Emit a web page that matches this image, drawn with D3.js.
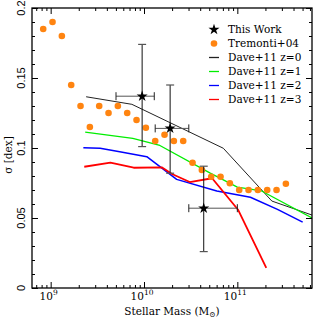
<!DOCTYPE html>
<html lang="en">
<head>
    <meta charset="UTF-8">
    <script src="https://cdnjs.cloudflare.com/ajax/libs/d3/7.8.5/d3.min.js"></script>
    <style>
        body { margin: 0; background: #fff; }
        svg { display: block; }
        .serif { font-family: "DejaVu Serif", serif; }
        .sans { font-family: "Liberation Sans", Arial, sans-serif; }
    </style>
</head>
<body>
<svg id="chart" width="314" height="320"></svg>
<script>
    // Tremonti+04 (log M*, sigma)
    var tremontiLogM = [8.92, 9.02, 9.12, 9.22, 9.32, 9.42, 9.52, 9.62, 9.72, 9.82, 9.92, 10.02, 10.12, 10.22,
        10.32, 10.42, 10.52, 10.62, 10.72, 10.82, 10.92, 11.02, 11.12, 11.22, 11.32, 11.42, 11.52];
    var tremontiSigma = [0.185, 0.190, 0.180, 0.145, 0.130, 0.115, 0.130, 0.125, 0.130, 0.125, 0.120, 0.1145, 0.105, 0.1095,
        0.105, 0.105, 0.0895, 0.0843, 0.0795, 0.0795, 0.0748, 0.070, 0.070, 0.070, 0.070, 0.070, 0.0745];

    // This work: log M*, sigma, mass range, sigma range
    var thisLogM = [9.98, 10.28, 10.64];
    var thisSigma = [0.137, 0.114, 0.057];
    var thisLogMLo = [9.70, 10.12, 10.48];
    var thisLogMHi = [10.11, 10.48, 11.0];
    var thisSigmaLo = [0.101, 0.082, 0.026];
    var thisSigmaHi = [0.174, 0.145, 0.087];

    // Dave+11 models
    var daveZ0LogM = [9.38, 9.87, 10.85, 11.37, 11.8];
    var daveZ0Sigma = [0.1366, 0.1312, 0.0998, 0.0621, 0.0521];
    var daveZ1LogM = [9.37, 9.88, 10.17, 10.71, 11.0, 11.26, 11.8];
    var daveZ1Sigma = [0.1114, 0.1068, 0.1018, 0.0821, 0.0721, 0.0693, 0.050];
    var daveZ2LogM = [9.35, 9.53, 9.74, 10.03, 10.35, 10.78, 11.14, 11.43, 11.70];
    var daveZ2Sigma = [0.1002, 0.0998, 0.0974, 0.0938, 0.0776, 0.0693, 0.0648, 0.0562, 0.0471];
    var daveZ3LogM = [9.36, 9.64, 9.89, 10.19, 10.30, 10.49, 10.73, 11.01, 11.31];
    var daveZ3Sigma = [0.0866, 0.0895, 0.0859, 0.0862, 0.0814, 0.0757, 0.0784, 0.0557, 0.0143];

    var yMajor = [0, 0.05, 0.1, 0.15, 0.2];
    var yMajorLabels = ["0", "0.05", "0.1", "0.15", "0.2"];
    var xMajorExp = [9, 10, 11];

    var legendLabels = ["This Work", "Tremonti+04", "Dave+11 z=0", "Dave+11 z=1", "Dave+11 z=2", "Dave+11 z=3"];

    var orange = "#ff8410";
    var daveSeries = [
        {lm: daveZ0LogM, s: daveZ0Sigma, color: "#222", w: 1},
        {lm: daveZ1LogM, s: daveZ1Sigma, color: "#00ee00", w: 1.3},
        {lm: daveZ2LogM, s: daveZ2Sigma, color: "#0000ff", w: 1.5},
        {lm: daveZ3LogM, s: daveZ3Sigma, color: "#ff0000", w: 1.8}
    ];

    (function () {
    var pL = 32, pR = 312, pT = 8, pB = 288;
    var svg = d3.select("#chart");

    var x = d3.scaleLog().domain([Math.pow(10, 8.8), Math.pow(10, 11.8)]).range([pL, pR]);
    var y = d3.scaleLinear().domain([0, 0.2]).range([pB, pT]);

    var xMinor = [];
    [8, 9, 10, 11].forEach(function (e) {
        for (var k = 2; k <= 9; k++) {
            var v = k * Math.pow(10, e);
            if (v >= x.domain()[0] && v <= x.domain()[1]) xMinor.push(v);
        }
    });
    var xMajorVals = xMajorExp.map(function (e) { return Math.pow(10, e); });
    var yMinor = d3.range(0, 0.2001, 0.01).filter(function (v) { return Math.abs(v * 20 - Math.round(v * 20)) > 1e-6; });

    svg.append("clipPath").attr("id", "clip").append("rect")
        .attr("x", pL).attr("y", pT).attr("width", pR - pL).attr("height", pB - pT);
    var plot = svg.append("g").attr("clip-path", "url(#clip)");

    var line = d3.line()
        .x(function (d) { return x(Math.pow(10, d[0])); })
        .y(function (d) { return y(d[1]); });

    daveSeries.forEach(function (sr) {
        plot.append("path")
            .datum(d3.zip(sr.lm, sr.s))
            .attr("d", line)
            .attr("fill", "none")
            .attr("stroke", sr.color)
            .attr("stroke-width", sr.w)
            .attr("stroke-linejoin", "round");
    });

    plot.selectAll("circle.trem")
        .data(d3.zip(tremontiLogM, tremontiSigma))
        .enter().append("circle")
        .attr("class", "trem")
        .attr("cx", function (d) { return x(Math.pow(10, d[0])); })
        .attr("cy", function (d) { return y(d[1]); })
        .attr("r", 3.3)
        .attr("fill", orange);

    // error bars
    var eb = plot.append("g");
    thisLogM.forEach(function (lm, i) {
        var cx = x(Math.pow(10, lm)), cy = y(thisSigma[i]);
        var x0 = x(Math.pow(10, thisLogMLo[i])), x1 = x(Math.pow(10, thisLogMHi[i]));
        var y0 = y(thisSigmaLo[i]), y1 = y(thisSigmaHi[i]);
        eb.append("line").attr("x1", x0).attr("x2", x1).attr("y1", cy).attr("y2", cy)
            .attr("stroke", "#555").attr("stroke-width", 1);
        eb.append("line").attr("x1", x0).attr("x2", x0).attr("y1", cy - 4).attr("y2", cy + 4)
            .attr("stroke", "#222").attr("stroke-width", 1);
        eb.append("line").attr("x1", x1).attr("x2", x1).attr("y1", cy - 4).attr("y2", cy + 4)
            .attr("stroke", "#222").attr("stroke-width", 1);
        eb.append("line").attr("x1", cx).attr("x2", cx).attr("y1", y0).attr("y2", y1)
            .attr("stroke", "#111").attr("stroke-width", 1);
        eb.append("line").attr("x1", cx - 4).attr("x2", cx + 4).attr("y1", y0).attr("y2", y0)
            .attr("stroke", "#555").attr("stroke-width", 1.2);
        eb.append("line").attr("x1", cx - 4).attr("x2", cx + 4).attr("y1", y1).attr("y2", y1)
            .attr("stroke", "#555").attr("stroke-width", 1.2);
        eb.append("path")
            .attr("d", d3.symbol().type(d3.symbolStar).size(38)())
            .attr("transform", "translate(" + cx + "," + cy + ")")
            .attr("fill", "#000");
    });

    // axes with inward ticks
    function tickAxis(gen, scale, vals, size, tx, ty) {
        svg.append("g")
            .attr("transform", "translate(" + tx + "," + ty + ")")
            .call(gen(scale).tickValues(vals).tickSize(size).tickFormat(""))
            .call(function (g) {
                g.select(".domain").remove();
                g.selectAll("line").attr("stroke", "#000").attr("stroke-width", 1);
            });
    }
    tickAxis(d3.axisBottom, x, xMinor, -3, 0, pB);
    tickAxis(d3.axisBottom, x, xMajorVals, -6, 0, pB);
    tickAxis(d3.axisTop, x, xMinor, -3, 0, pT);
    tickAxis(d3.axisTop, x, xMajorVals, -6, 0, pT);
    tickAxis(d3.axisLeft, y, yMinor, -3, pL, 0);
    tickAxis(d3.axisLeft, y, yMajor, -6, pL, 0);
    tickAxis(d3.axisRight, y, yMinor, -3, pR, 0);
    tickAxis(d3.axisRight, y, yMajor, -6, pR, 0);

    svg.append("rect")
        .attr("x", pL).attr("y", pT).attr("width", pR - pL).attr("height", pB - pT)
        .attr("fill", "none").attr("stroke", "#000").attr("stroke-width", 1.3);

    // y tick labels (rotated)
    yMajor.forEach(function (v, i) {
        svg.append("text")
            .attr("class", "sans")
            .attr("transform", "translate(25," + y(v) + ") rotate(-90)")
            .attr("text-anchor", "middle")
            .attr("font-size", 11)
            .text(yMajorLabels[i]);
    });

    // x tick labels
    xMajorExp.forEach(function (e) {
        var t = svg.append("text")
            .attr("class", "serif")
            .attr("x", x(Math.pow(10, e)) - 2)
            .attr("y", 300)
            .attr("text-anchor", "middle")
            .attr("font-size", 10.5);
        t.append("tspan").text("10");
        t.append("tspan").attr("dy", -5).attr("font-size", 7.5).text(e);
    });

    // axis titles
    var xl = svg.append("text")
        .attr("class", "serif")
        .attr("x", 172).attr("y", 315)
        .attr("text-anchor", "middle")
        .attr("font-size", 10.5);
    xl.append("tspan").text("Stellar Mass (M");
    xl.append("tspan").attr("dy", 2).attr("font-size", 7.5).text("\u2299");
    xl.append("tspan").attr("dy", -2).text(")");

    svg.append("text")
        .attr("class", "serif")
        .attr("transform", "translate(12,155) rotate(-90)")
        .attr("text-anchor", "middle")
        .attr("font-size", 10.5)
        .text("\u03c3 [dex]");

    // legend
    var lg = svg.append("g");
    var ly0 = 29.5, ldy = 14;
    legendLabels.forEach(function (lab, i) {
        var yy = ly0 + i * ldy;
        if (i === 0) {
            lg.append("path")
                .attr("d", d3.symbol().type(d3.symbolStar).size(38)())
                .attr("transform", "translate(214," + yy + ")")
                .attr("fill", "#000");
        } else if (i === 1) {
            lg.append("circle").attr("cx", 214).attr("cy", yy).attr("r", 3.3).attr("fill", orange);
        } else {
            var sr = daveSeries[i - 2];
            lg.append("line").attr("x1", 209).attr("x2", 219).attr("y1", yy).attr("y2", yy)
                .attr("stroke", sr.color).attr("stroke-width", 1.3);
        }
        lg.append("text")
            .attr("class", "serif")
            .attr("x", 228).attr("y", yy + 3.8)
            .attr("font-size", 10.5)
            .text(lab);
    });
    })();
</script>
</body>
</html>
